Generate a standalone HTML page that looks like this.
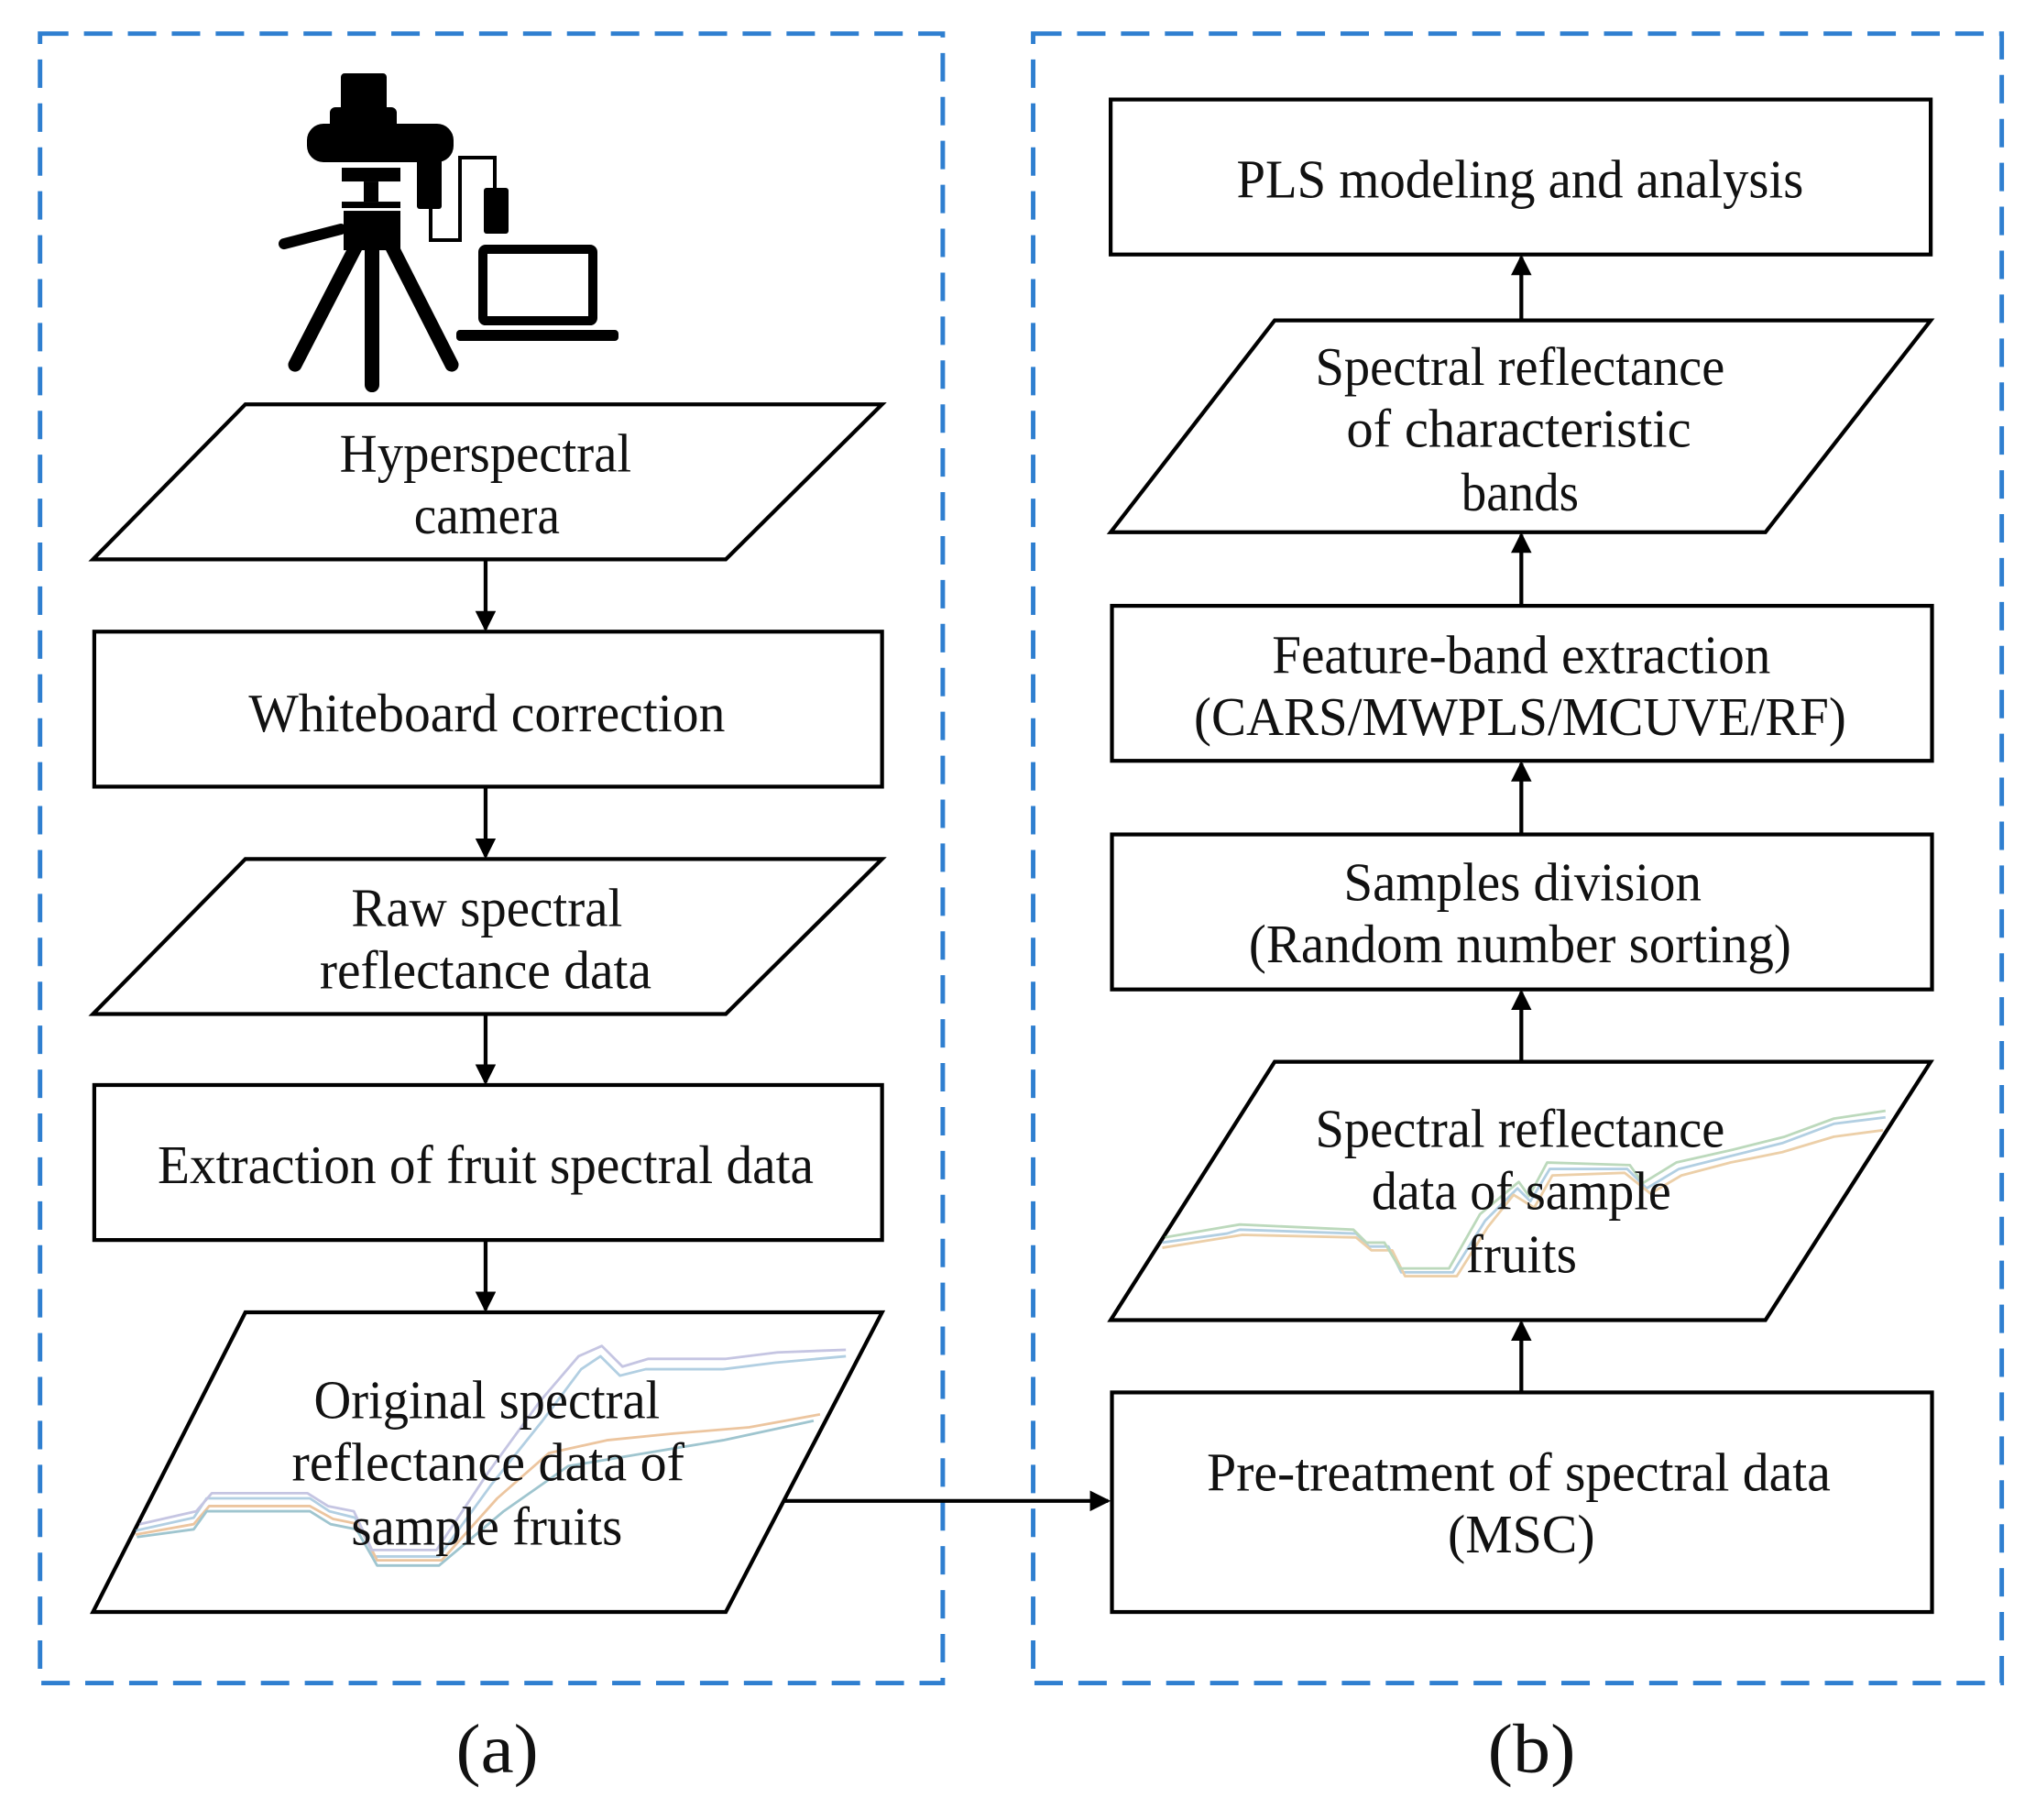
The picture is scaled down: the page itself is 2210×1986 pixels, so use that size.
<!DOCTYPE html>
<html><head><meta charset="utf-8"><style>
html,body{margin:0;padding:0;background:#fff;}
svg{display:block;}
</style></head><body>
<svg width="2210" height="1986" viewBox="0 0 1568 1409" xmlns="http://www.w3.org/2000/svg">
<defs>
<marker id="ah2" markerWidth="16" markerHeight="16" refX="14" refY="8" orient="auto" markerUnits="userSpaceOnUse">
<path d="M0,0 L16,8 L0,16 Z" fill="#000"/></marker>
</defs>
<rect width="1568" height="1409" fill="#fff"/>
<rect x="31" y="26" width="699" height="1277" fill="none" stroke="#2f7fd0" stroke-width="3.5" stroke-dasharray="22,12"/>
<rect x="800" y="26" width="750" height="1277" fill="none" stroke="#2f7fd0" stroke-width="3.5" stroke-dasharray="22,12"/>

<g transform="scale(0.70950)" fill="#000">
<rect x="372" y="80" width="50" height="43" rx="4"/>
<rect x="360" y="117" width="73" height="26" rx="6"/>
<rect x="335" y="135" width="160" height="42" rx="18"/>
<rect x="373" y="183" width="64" height="15"/>
<rect x="397" y="198" width="16" height="22"/>
<rect x="373" y="220" width="64" height="7"/>
<rect x="375" y="230" width="62" height="43"/>
<line x1="310" y1="266" x2="372" y2="250" stroke="#000" stroke-width="12" stroke-linecap="round"/>
<line x1="388" y1="270" x2="322" y2="398" stroke="#000" stroke-width="15" stroke-linecap="round"/>
<line x1="406" y1="270" x2="406" y2="420" stroke="#000" stroke-width="16" stroke-linecap="round"/>
<line x1="428" y1="270" x2="493" y2="398" stroke="#000" stroke-width="15" stroke-linecap="round"/>
<rect x="455" y="173" width="27" height="55" rx="3"/>
<path d="M470,228 V262 H502 V172 H540 V208" fill="none" stroke="#000" stroke-width="4"/>
<rect x="528" y="205" width="27" height="50" rx="3"/>
<rect x="527" y="272" width="120" height="78" fill="none" stroke="#000" stroke-width="10" rx="3"/>
<rect x="498" y="360" width="177" height="12" rx="4"/>
</g>

<g fill="#fff" stroke="#000" stroke-width="3">
<polygon points="190,313 683,313 562,433 72,433"/>
<rect x="73" y="489" width="610" height="120"/>
<polygon points="190,665 683,665 562,785 72,785"/>
<rect x="73" y="840" width="610" height="120"/>
<polygon points="190,1016 683,1016 562,1248 72,1248"/>
<rect x="860" y="77" width="635" height="120"/>
<polygon points="987,248 1495,248 1367,412 860,412"/>
<rect x="861" y="469" width="635" height="120"/>
<rect x="861" y="646" width="635" height="120"/>
<polygon points="987,822 1495,822 1367,1022 860,1022"/>
<rect x="861" y="1078" width="635" height="170"/>
</g>

<g fill="none" stroke-width="2" opacity="0.6" stroke-linejoin="round">
<polyline stroke="#7fb0d0" points="900,962 950,955 960,952 1050,955 1060,965 1075,965 1085,985 1125,985 1150,945 1175,920 1185,930 1200,905 1260,905 1275,920 1300,905 1340,895 1380,885 1420,870 1460,865"/>
<polyline stroke="#e0b070" points="900,966 950,958 962,956 1050,958 1062,968 1078,968 1088,988 1128,988 1152,950 1172,925 1188,935 1202,910 1258,908 1278,924 1302,910 1340,900 1380,892 1420,880 1458,875"/>
<polyline stroke="#90c090" points="902,958 948,950 960,948 1048,952 1058,962 1072,962 1084,982 1122,982 1146,940 1176,915 1184,926 1198,900 1262,902 1272,916 1298,900 1342,890 1382,880 1420,866 1460,860"/>
<polyline stroke="#7fb0d0" points="105,1185 150,1175 160,1160 240,1160 255,1170 275,1175 290,1205 340,1205 380,1150 420,1100 450,1060 465,1050 480,1065 500,1060 560,1060 600,1055 655,1050"/>
<polyline stroke="#e0a060" points="105,1188 150,1180 162,1166 240,1166 258,1176 278,1180 292,1208 342,1208 385,1160 425,1125 470,1115 520,1110 580,1105 635,1095"/>
<polyline stroke="#a0a0d0" points="108,1180 152,1170 164,1156 238,1156 254,1166 274,1170 288,1200 338,1200 378,1140 418,1085 448,1050 466,1042 482,1058 502,1052 562,1052 602,1047 655,1045"/>
<polyline stroke="#60a0b0" points="106,1190 150,1184 160,1170 240,1170 256,1180 276,1184 292,1212 340,1212 390,1170 440,1135 500,1125 560,1115 630,1100"/>
</g>

<g stroke="#000" stroke-width="3">
<line x1="376" y1="433" x2="376" y2="487" marker-end="url(#ah2)"/>
<line x1="376" y1="609" x2="376" y2="663" marker-end="url(#ah2)"/>
<line x1="376" y1="785" x2="376" y2="838" marker-end="url(#ah2)"/>
<line x1="376" y1="960" x2="376" y2="1014" marker-end="url(#ah2)"/>
<line x1="606" y1="1162" x2="858" y2="1162" marker-end="url(#ah2)"/>
<line x1="1178" y1="1078" x2="1178" y2="1024" marker-end="url(#ah2)"/>
<line x1="1178" y1="822" x2="1178" y2="768" marker-end="url(#ah2)"/>
<line x1="1178" y1="646" x2="1178" y2="591" marker-end="url(#ah2)"/>
<line x1="1178" y1="469" x2="1178" y2="414" marker-end="url(#ah2)"/>
<line x1="1178" y1="248" x2="1178" y2="199" marker-end="url(#ah2)"/>
</g>

<g font-family="Liberation Serif, DejaVu Serif, serif" font-size="42" fill="#111" text-anchor="middle" lengthAdjust="spacingAndGlyphs">
<text x="376" y="365" textLength="226" lengthAdjust="spacingAndGlyphs">Hyperspectral</text>
<text x="377" y="413" textLength="113" lengthAdjust="spacingAndGlyphs">camera</text>
<text x="377" y="566" textLength="369" lengthAdjust="spacingAndGlyphs">Whiteboard correction</text>
<text x="377" y="717" textLength="210" lengthAdjust="spacingAndGlyphs">Raw spectral</text>
<text x="376" y="765" textLength="257" lengthAdjust="spacingAndGlyphs">reflectance data</text>
<text x="376" y="916" textLength="508" lengthAdjust="spacingAndGlyphs">Extraction of fruit spectral data</text>
<text x="377" y="1098" textLength="268" lengthAdjust="spacingAndGlyphs">Original spectral</text>
<text x="378" y="1146" textLength="304" lengthAdjust="spacingAndGlyphs">reflectance data of</text>
<text x="377" y="1196" textLength="210" lengthAdjust="spacingAndGlyphs">sample fruits</text>
<text x="1177" y="153" textLength="439" lengthAdjust="spacingAndGlyphs">PLS modeling and analysis</text>
<text x="1177" y="298" textLength="317" lengthAdjust="spacingAndGlyphs">Spectral reflectance</text>
<text x="1176" y="346" textLength="267" lengthAdjust="spacingAndGlyphs">of  characteristic</text>
<text x="1177" y="395" textLength="91" lengthAdjust="spacingAndGlyphs">bands</text>
<text x="1178" y="521" textLength="386" lengthAdjust="spacingAndGlyphs">Feature-band extraction</text>
<text x="1177" y="569" textLength="505" lengthAdjust="spacingAndGlyphs">(CARS/MWPLS/MCUVE/RF)</text>
<text x="1179" y="697" textLength="277" lengthAdjust="spacingAndGlyphs">Samples division</text>
<text x="1177" y="745" textLength="420" lengthAdjust="spacingAndGlyphs">(Random number sorting)</text>
<text x="1177" y="888" textLength="317" lengthAdjust="spacingAndGlyphs">Spectral reflectance</text>
<text x="1178" y="936" textLength="232" lengthAdjust="spacingAndGlyphs">data of sample</text>
<text x="1178" y="985" textLength="86" lengthAdjust="spacingAndGlyphs">fruits</text>
<text x="1176" y="1154" textLength="483" lengthAdjust="spacingAndGlyphs">Pre-treatment of spectral data</text>
<text x="1178" y="1202" textLength="114" lengthAdjust="spacingAndGlyphs">(MSC)</text>
</g>
<g font-family="Liberation Serif, DejaVu Serif, serif" font-size="54" fill="#111" text-anchor="middle">
<text x="385" y="1372" textLength="64" lengthAdjust="spacingAndGlyphs">(a)</text>
<text x="1186" y="1372" textLength="68" lengthAdjust="spacingAndGlyphs">(b)</text>
</g>
</svg>
</body></html>
